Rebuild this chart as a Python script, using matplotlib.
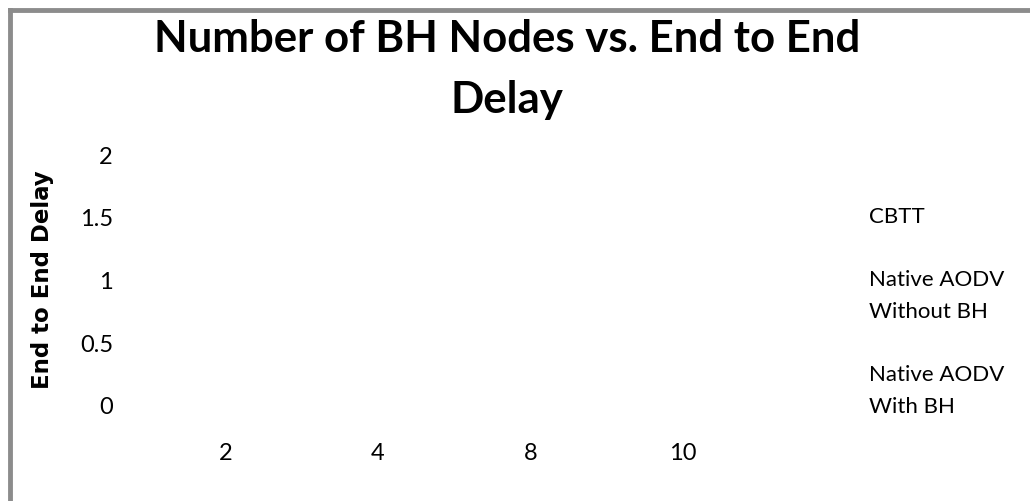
import numpy as np
import matplotlib
matplotlib.use("Agg")
import matplotlib.pyplot as plt
from matplotlib.lines import Line2D

# data: no bars are visible in the chart, every value reads as 0
bh_nodes = ["2", "4", "8", "10"]
series_names = ["CBTT", "Native AODV\nWithout BH", "Native AODV\nWith BH"]
cbtt = [0, 0, 0, 0]
aodv_without_bh = [0, 0, 0, 0]
aodv_with_bh = [0, 0, 0, 0]
y_ticks = [0, 0.5, 1, 1.5, 2]
y_tick_labels = ["0", "0.5", "1", "1.5", "2"]

plt.rcParams['font.family'] = ['Lato', 'DejaVu Sans']

fig = plt.figure(figsize=(10.3, 5.01), dpi=100)
W, H = 1030, 501
ax = fig.add_axes([149 / W, (H - 406) / H, (759 - 149) / W, (406 - 155) / H])

x = np.arange(len(bh_nodes))
bw = 0.25
colors = ['#4f81bd', '#c0504d', '#9bbb59']
for i, (vals, name) in enumerate(zip([cbtt, aodv_without_bh, aodv_with_bh], series_names)):
    ax.bar(x + (i - 1) * bw, vals, bw, color=colors[i], label=name)

ax.set_xlim(-0.5, len(bh_nodes) - 0.5)
ax.set_ylim(0, 2)
ax.set_xticks(x)
ax.set_xticklabels(bh_nodes, fontsize=17)
ax.set_yticks(y_ticks)
ax.set_yticklabels(y_tick_labels, fontsize=17)
ax.tick_params(length=0)
ax.tick_params(axis='y', pad=26)
ax.tick_params(axis='x', pad=27)
for s in ax.spines.values():
    s.set_visible(False)

ax.set_ylabel("End to End Delay", fontsize=16.5, fontweight='bold',
              family='DejaVu Sans')
ax.yaxis.set_label_coords(-0.155, 0.505)

# legend: text only, no visible keys
handles = [Line2D([], [], linestyle='none') for _ in series_names]
leg = fig.legend(handles, series_names, loc='upper left',
                 bbox_to_anchor=(858 / W, 1 - 196 / H), frameon=False,
                 handlelength=0, handletextpad=0, fontsize=16,
                 labelspacing=1.93, borderpad=0)
for t in leg.get_texts():
    t.set_linespacing(1.75)

fig.text(507 / W, 1 - 19 / H, "Number of BH Nodes vs. End to End\nDelay",
         ha='center', va='top', fontsize=31.5, fontweight='bold',
         linespacing=1.65)

# grey chart-area border on top and left
fig.add_artist(Line2D([10 / W, 10 / W], [0, 1 - 10 / H], color='#8c8c8c', lw=3.5))
fig.add_artist(Line2D([10 / W, 1], [1 - 10 / H, 1 - 10 / H], color='#8c8c8c', lw=3.5))

fig.savefig("out.png", dpi=100, facecolor='white')
